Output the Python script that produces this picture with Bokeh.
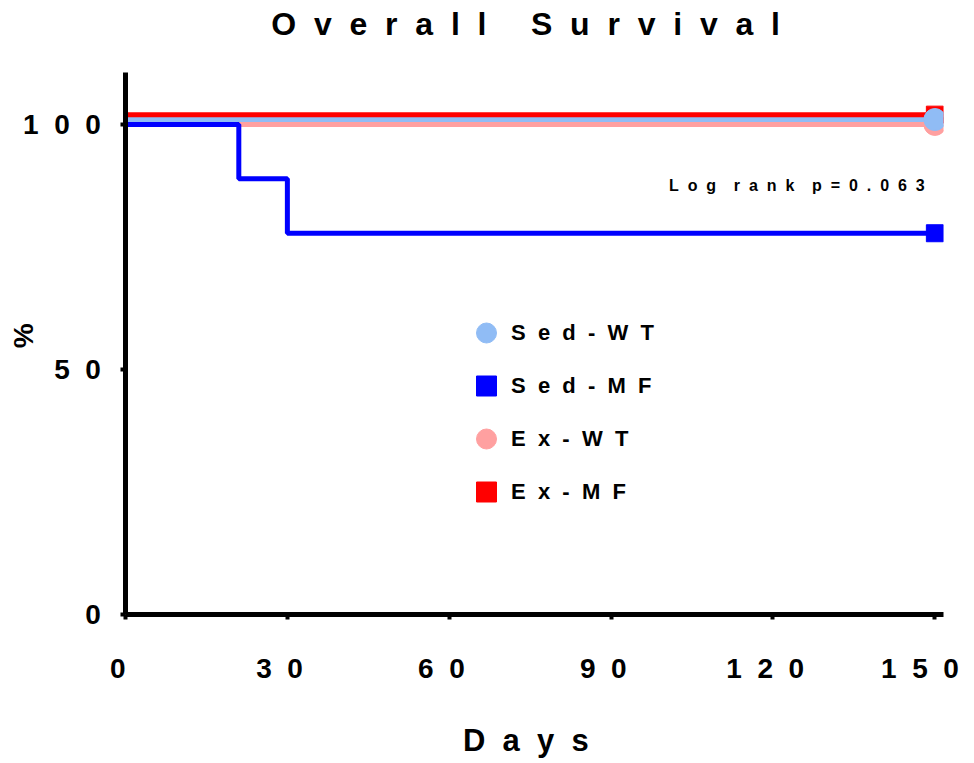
from bokeh.plotting import figure
from bokeh.models import Range1d, Legend, LegendItem, Label, FixedTicker
from bokeh.embed import file_html
from bokeh.resources import INLINE

# ---------------- data ----------------
series_names = ["Sed-WT", "Sed-MF", "Ex-WT", "Ex-MF"]
days_sed_wt = [0, 150]
surv_sed_wt = [101, 101]
days_sed_mf = [0, 21, 30, 150]
surv_sed_mf = [100, 88.9, 77.8, 77.8]
days_ex_wt = [0, 150]
surv_ex_wt = [100, 100]
days_ex_mf = [0, 150]
surv_ex_mf = [102, 102]
x_ticks = [0, 30, 60, 90, 120, 150]
y_ticks = [0, 50, 100]
title_text = "Overall Survival"
x_title = "Days"
y_title = "%"
p_value_text = "Log rank p=0.063"

colors = {"Sed-WT": "#90BCF5", "Sed-MF": "#0000FF",
          "Ex-WT": "#FFA0A0", "Ex-MF": "#FF0000"}

NB = "\u00a0"


def spaced(s, gap=2, word=5, trail=True):
    words = s.split(" ")
    out = (NB * word).join((NB * gap).join(list(w)) for w in words)
    if trail:
        out += NB * gap
    return out


FONT = "Liberation Sans"
X_MAX, Y_MAX = 151.6, 110.6
W, H = 974, 763
B_LEFT, B_RIGHT, B_TOP, B_BOTTOM = 125, 31, 72, 149

p = figure(width=W, height=H, output_backend="svg", toolbar_location=None,
           x_range=Range1d(0, X_MAX), y_range=Range1d(0, Y_MAX),
           min_border_left=B_LEFT, min_border_right=B_RIGHT, min_border_top=B_TOP,
           min_border_bottom=B_BOTTOM)

p.xgrid.visible = False
p.ygrid.visible = False
p.outline_line_color = None

for ax in (p.xaxis[0], p.yaxis[0]):
    ax.axis_line_width = 5
    ax.axis_line_color = "black"
    ax.major_tick_line_width = 4
    ax.major_tick_out = 5
    ax.major_tick_in = 0
    ax.minor_tick_line_color = None
    ax.major_label_text_font = FONT
    ax.major_label_text_font_size = "28px"
    ax.major_label_text_font_style = "bold"
    ax.major_label_text_color = "black"
    ax.axis_label_text_font = FONT
    ax.axis_label_text_font_style = "bold"
    ax.axis_label_text_color = "black"

p.xaxis.ticker = FixedTicker(ticks=x_ticks)
p.yaxis.ticker = FixedTicker(ticks=y_ticks)
p.xaxis.major_label_overrides = {t: spaced(str(t)) for t in x_ticks}
p.yaxis.major_label_overrides = {t: spaced(str(t)) for t in y_ticks}
p.xaxis.major_label_standoff = 33
p.yaxis.major_label_standoff = 4
p.xaxis.axis_label = spaced(x_title)
p.xaxis.axis_label_text_font_size = "31px"
p.xaxis.axis_label_standoff = 36
p.yaxis.axis_label = NB * 2 + y_title
p.yaxis.axis_label_text_font_size = "28px"
p.yaxis.axis_label_standoff = -19

# ---------------- curves ----------------
lw = 5
p.step(days_ex_wt, surv_ex_wt, mode="after", line_width=lw, line_color=colors["Ex-WT"])
p.step(days_sed_wt, surv_sed_wt, mode="after", line_width=lw, line_color=colors["Sed-WT"])
p.step(days_ex_mf, surv_ex_mf, mode="after", line_width=lw, line_color=colors["Ex-MF"])
p.step(days_sed_mf, surv_sed_mf, mode="after", line_width=lw, line_color=colors["Sed-MF"])

# end-of-follow-up symbols
r_ex_wt = p.scatter([days_ex_wt[-1]], [surv_ex_wt[-1]], marker="circle", size=22,
                    fill_color=colors["Ex-WT"], line_color=colors["Ex-WT"])
r_ex_mf = p.scatter([days_ex_mf[-1]], [surv_ex_mf[-1]], marker="square", size=17,
                    fill_color=colors["Ex-MF"], line_color=colors["Ex-MF"])
r_sed_wt = p.scatter([days_sed_wt[-1]], [surv_sed_wt[-1]], marker="circle", size=22,
                     fill_color=colors["Sed-WT"], line_color=colors["Sed-WT"])
r_sed_mf = p.scatter([days_sed_mf[-1]], [surv_sed_mf[-1]], marker="square", size=17,
                     fill_color=colors["Sed-MF"], line_color=colors["Sed-MF"])

renderers = {"Sed-WT": r_sed_wt, "Sed-MF": r_sed_mf, "Ex-WT": r_ex_wt, "Ex-MF": r_ex_mf}
items = [LegendItem(label=spaced(n, trail=False), renderers=[renderers[n]]) for n in series_names]
legend = Legend(items=items, location=(336, 96), orientation="vertical",
                glyph_width=50, glyph_height=53, label_height=53, spacing=0,
                label_standoff=0, padding=0, margin=0,
                border_line_color=None, background_fill_alpha=0,
                label_text_font=FONT, label_text_font_size="22px",
                label_text_font_style="bold", label_text_color="black")
p.add_layout(legend, "center")

p.add_layout(Label(x=148.1, y=87.6, text=spaced(p_value_text, gap=2, word=4, trail=False),
                   text_align="right", text_baseline="middle",
                   text_font=FONT, text_font_size="16px",
                   text_font_style="bold", text_color="black"))

# chart title in the panel above the plotting frame
p.add_layout(Label(x=X_MAX / 2, y=49, y_units="screen", text=spaced(title_text),
                   text_align="center", text_baseline="middle",
                   text_font=FONT, text_font_size="32px",
                   text_font_style="bold", text_color="black"), "above")

open("out.html", "w").write(file_html(p, INLINE))
